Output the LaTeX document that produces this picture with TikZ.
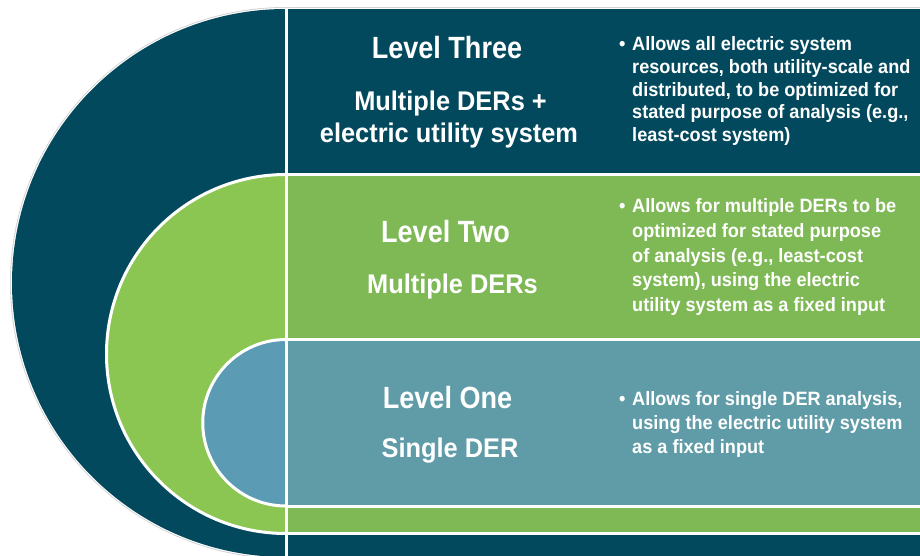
\documentclass[tikz,border=0pt]{standalone}
\usepackage{fontspec}
\setmainfont{Liberation Sans}
\newfontfamily\headfont[FakeStretch=0.88]{Liberation Sans}
\newfontfamily\subfont[FakeStretch=0.94]{Liberation Sans}
\newfontfamily\bodyfont[FakeStretch=0.94]{Liberation Sans}
\definecolor{darkteal}{RGB}{2,73,94}
\definecolor{greenA}{RGB}{139,198,82}
\definecolor{greenB}{RGB}{127,185,86}
\definecolor{blueA}{RGB}{91,155,179}
\definecolor{blueB}{RGB}{95,156,167}
\tikzset{
  head/.style={anchor=base, inner sep=0pt, text=white, font=\headfont\bfseries\fontsize{30.7}{34}\selectfont},
  sub/.style={anchor=base, inner sep=0pt, text=white, font=\subfont\bfseries\fontsize{27}{30}\selectfont},
  body/.style={anchor=base west, inner sep=0pt, text=white, font=\bodyfont\bfseries\fontsize{19.3}{23}\selectfont},
  sep/.style={draw=white, line width=3pt},
}
\begin{document}
\begin{tikzpicture}[x=1pt,y=-1pt]
\useasboundingbox (0,0) rectangle (920,556);
\fill[white] (0,0) rectangle (920,556);
\begin{scope}
\clip (0,0) rectangle (920,556);
% level three outer shape
\draw[gray!35, line width=4pt] (286,283) circle[radius=274];
\draw[gray!35, line width=4pt] (286,9) -- (930,9);
\draw[white, line width=2.2pt] (286,283) circle[radius=274];
\draw[white, line width=2.2pt] (286,9) -- (930,9);
\fill[darkteal] (286,283) circle[radius=274];
\fill[darkteal] (286,9) rectangle (930,570);
% level two
\filldraw[fill=greenA, sep] (286,354) circle[radius=179.5];
\filldraw[fill=greenB, sep] (286,174.5) rectangle (930,533.5);
% level one
\filldraw[fill=blueA, sep] (286,422.75) circle[radius=83.25];
\filldraw[fill=blueB, sep] (286,339.5) rectangle (930,506);
% vertical separator
\draw[sep] (286,9) -- (286,570);
\end{scope}

% Level three texts
\node[head] (t3a) at (447,59) {Level Three};
\node[sub] (t3b) at (450.5,111) {Multiple DERs +};
\node[sub] (t3c) at (449,143) {electric utility system};
\node[body] (b3) at (619,51) {\textbullet};
\node[body] (b3a) at (632,51) {Allows all electric system};
\node[body] (b3b) at (632,73.7) {resources, both utility-scale and};
\node[body] (b3c) at (632,96.4) {distributed, to be optimized for};
\node[body] (b3d) at (632,119) {stated purpose of analysis (e.g.,};
\node[body] (b3e) at (632,141.7) {least-cost system)};

% Level two texts
\node[head] (t2a) at (445.5,242) {Level Two};
\node[sub] (t2b) at (452.5,293) {Multiple DERs};
\node[body] (b2) at (619,212.5) {\textbullet};
\node[body] (b2a) at (632,212.5) {Allows for multiple DERs to be};
\node[body] (b2b) at (632,237.3) {optimized for stated purpose};
\node[body] (b2c) at (632,262.1) {of analysis (e.g., least-cost};
\node[body] (b2d) at (632,286.9) {system), using the electric};
\node[body] (b2e) at (632,311.7) {utility system as a fixed input};

% Level one texts
\node[head] (t1a) at (447.5,408) {Level One};
\node[sub] (t1b) at (450,457) {Single DER};
\node[body] (b1) at (619,405) {\textbullet};
\node[body] (b1a) at (632,405) {Allows for single DER analysis,};
\node[body] (b1b) at (632,429) {using the electric utility system};
\node[body] (b1c) at (632,453) {as a fixed input};
\end{tikzpicture}
\end{document}
